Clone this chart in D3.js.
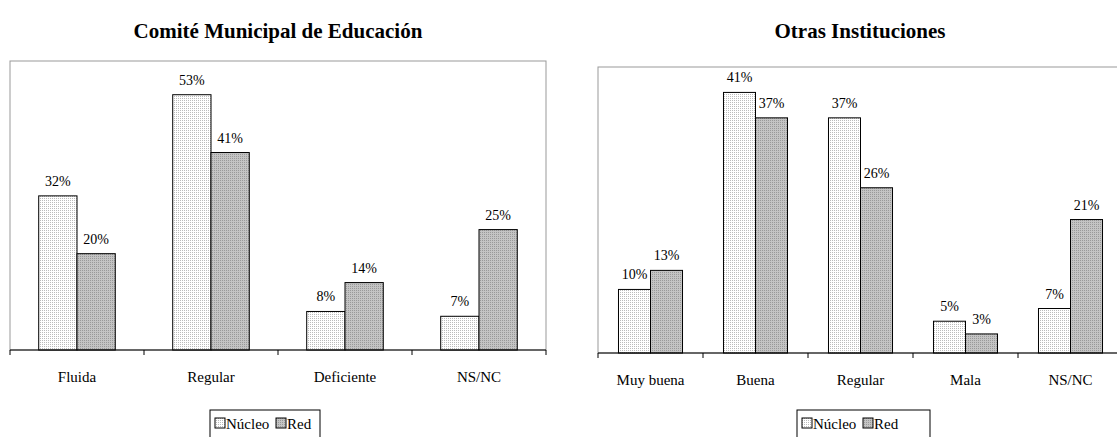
<!DOCTYPE html>
<html><head><meta charset="utf-8">
<script src="https://cdn.jsdelivr.net/npm/d3@7"></script>
<style>body{margin:0;background:#fff}</style>
</head><body><svg width="1117" height="437"></svg>
<script>
const series = ['Núcleo', 'Red'];
const catsA = ['Fluida', 'Regular', 'Deficiente', 'NS/NC'];
const nucleoA = [32, 53, 8, 7];
const redA = [20, 41, 14, 25];
const catsB = ['Muy buena', 'Buena', 'Regular', 'Mala', 'NS/NC'];
const nucleoB = [10, 41, 37, 5, 7];
const redB = [13, 37, 26, 3, 21];

const FONT = "'Liberation Serif'";
const svg = d3.select('svg');
const defs = svg.append('defs');
const pn = defs.append('pattern').attr('id', 'pn').attr('width', 2).attr('height', 2).attr('patternUnits', 'userSpaceOnUse');
pn.append('rect').attr('width', 2).attr('height', 2).attr('fill', '#fff');
pn.append('rect').attr('width', 1).attr('height', 1).attr('fill', '#bbb');
const pr = defs.append('pattern').attr('id', 'pr').attr('width', 2).attr('height', 2).attr('patternUnits', 'userSpaceOnUse');
pr.append('rect').attr('width', 2).attr('height', 2).attr('fill', '#c4c4c4');
pr.append('rect').attr('width', 1).attr('height', 1).attr('fill', '#999');
const fills = ['url(#pn)', 'url(#pr)'];

function label(x, y, txt, size, anchor, bold) {
  svg.append('text').attr('x', x).attr('y', y).style('font-family', FONT)
    .attr('font-size', size).attr('text-anchor', anchor || 'middle')
    .attr('font-weight', bold ? 'bold' : null).text(txt);
}

function chart(o) {
  const x = d3.scaleBand().domain(o.cats).range([o.x0, o.x1]);
  const xi = d3.scaleBand().domain(series).range([0, x.bandwidth()]).paddingOuter(o.pad);
  const y = d3.scaleLinear().domain([0, o.max]).range([o.y1, o.y0]);
  svg.append('rect').attr('x', o.x0).attr('y', o.y0).attr('width', o.x1 - o.x0).attr('height', o.y1 - o.y0)
    .attr('fill', 'none').attr('stroke', '#999');
  const vals = [o.n, o.r];
  o.cats.forEach((c, i) => {
    series.forEach((s, j) => {
      const v = vals[j][i];
      svg.append('rect').attr('x', x(c) + xi(s)).attr('y', y(v)).attr('width', xi.bandwidth())
        .attr('height', y(0) - y(v)).attr('fill', fills[j]).attr('stroke', '#000');
      label(x(c) + xi(s) + xi.bandwidth() / 2, y(v) - 10, v + '%', 14);
    });
    label(x(c) + x.bandwidth() / 2, o.y1 + 32, c, 15);
  });
  svg.append('line').attr('x1', o.x0).attr('x2', o.x1).attr('y1', o.y1).attr('y2', o.y1).attr('stroke', '#000');
  o.cats.concat([null]).forEach(c => {
    const tx = c ? x(c) : o.x1;
    svg.append('line').attr('x1', tx).attr('x2', tx).attr('y1', o.y1).attr('y2', o.y1 + 5).attr('stroke', '#000');
  });
  label(o.tx, o.ty, o.title, 21, 'middle', true);
  svg.append('rect').attr('x', o.lx).attr('y', 410).attr('width', o.lw).attr('height', 30).attr('fill', '#fff').attr('stroke', '#000');
  series.forEach((s, j) => {
    const off = o.lx + (j ? 66 : 5);
    svg.append('rect').attr('x', off).attr('y', 418).attr('width', 10).attr('height', 10).attr('fill', fills[j]).attr('stroke', '#000');
    label(off + 11, 429, s, 15, 'start');
  });
}

chart({cats: catsA, n: nucleoA, r: redA, x0: 10, x1: 546, y0: 61, y1: 350, max: 60, pad: 0.75,
  title: 'Comité Municipal de Educación', tx: 278, ty: 38, lx: 210, lw: 110});
chart({cats: catsB, n: nucleoB, r: redB, x0: 598, x1: 1123, y0: 67, y1: 353, max: 45, pad: 0.64,
  title: 'Otras Instituciones', tx: 860, ty: 38, lx: 797, lw: 133});
</script></body></html>
